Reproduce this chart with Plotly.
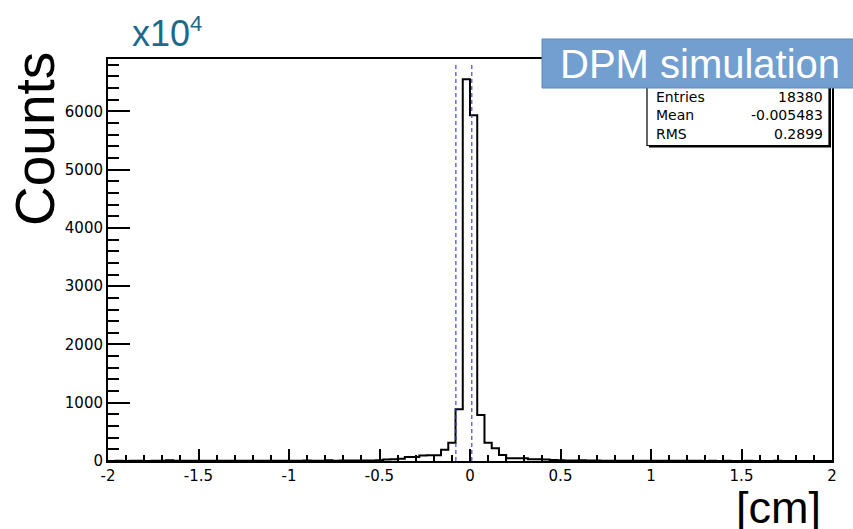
import plotly.graph_objects as go

# ---- data ----
bin_low = -2.0
bin_width = 0.04
counts = [
    2, 3, 2, 4, 3, 2, 3, 4, 12, 5,          # -2.00 .. -1.64
    4, 5, 3, 5, 4, 6, 4, 5, 3, 5,            # -1.60 .. -1.24
    4, 6, 5, 4, 6, 5, 6, 7, 5, 6,            # -1.20 .. -0.84
    12, 6, 7, 8, 7, 9, 10, 15, 25, 30,       # -0.80 .. -0.44
    40, 69, 69, 95, 100, 100, 195, 314, 887, 6552,  # -0.40 .. -0.04
    5935, 789, 314, 217, 103, 46, 46, 46, 29, 29,   # 0.00 .. 0.36
    25, 17, 12, 10, 9, 14, 8, 7, 6, 6,       # 0.40 .. 0.76
    5, 5, 4, 5, 4, 4, 3, 4, 3, 3,            # 0.80 .. 1.16
    3, 3, 2, 3, 2, 3, 2, 2, 3, 2,            # 1.20 .. 1.56
    2, 2, 3, 2, 2, 2, 1, 2, 2, 2,            # 1.60 .. 1.96
]
dashed_lines_x = [-0.078, 0.01]
stats_names = ["Entries", "Mean", "RMS"]
stats_values = ["18380", "-0.005483", "0.2899"]
x_tick_vals = [-2, -1.5, -1, -0.5, 0, 0.5, 1, 1.5, 2]
x_tick_text = ["-2", "-1.5", "-1", "-0.5", "0", "0.5", "1", "1.5", "2"]
y_tick_vals = [0, 1000, 2000, 3000, 4000, 5000, 6000]

# ---- build step histogram ----
edges = [bin_low + bin_width * i for i in range(len(counts) + 1)]
xs = edges
ys = counts + [counts[-1]]

fig = go.Figure()
fig.add_trace(go.Scatter(
    x=xs, y=ys, mode="lines", line=dict(color="black", width=2, shape="hv"),
    hoverinfo="skip", showlegend=False,
))
for xv in dashed_lines_x:
    fig.add_trace(go.Scatter(
        x=[xv, xv], y=[0, 6800], mode="lines",
        line=dict(color="#2f2fff", width=1.1, dash="4px,3px"),
        hoverinfo="skip", showlegend=False,
    ))

tickfont = dict(family="DejaVu Sans", size=15, color="black")
fig.update_xaxes(
    range=[-2, 2], tickvals=x_tick_vals, ticktext=x_tick_text,
    ticks="inside", ticklen=12, tickwidth=1.5, tickcolor="black",
    minor=dict(dtick=0.1, tick0=0, ticks="inside", ticklen=6, tickwidth=1.5, tickcolor="black"),
    showline=True, linecolor="black", linewidth=2, mirror=True,
    showgrid=False, zeroline=False, tickfont=tickfont,
)
fig.update_yaxes(
    range=[0, 6900], tickvals=y_tick_vals,
    ticks="inside", ticklen=22, tickwidth=1.5, tickcolor="black",
    minor=dict(dtick=200, tick0=0, ticks="inside", ticklen=11, tickwidth=1.5, tickcolor="black"),
    showline=True, linecolor="black", linewidth=2, mirror=True,
    showgrid=False, zeroline=False, tickfont=tickfont,
)

L, R, T, B = 108, 21, 59, 68
W, H = 853, 529
pw, ph = W - L - R, H - T - B

def px(x):
    return (x - L) / pw

def py(y):
    return (H - B - y) / ph

shapes = []
# stats box shadow + box
shapes.append(dict(type="rect", xref="paper", yref="paper",
                   x0=px(649), x1=px(831), y0=py(147.5), y1=py(57),
                   fillcolor="black", line=dict(width=0), layer="above"))
shapes.append(dict(type="rect", xref="paper", yref="paper",
                   x0=px(647), x1=px(829), y0=py(145.5), y1=py(55),
                   fillcolor="white", line=dict(color="black", width=1.2), layer="above"))
# DPM simulation box
shapes.append(dict(type="rect", xref="paper", yref="paper",
                   x0=px(542), x1=px(860), y0=py(88), y1=py(39),
                   fillcolor="#729fcf", line=dict(color="#5b87bd", width=1), layer="above"))

annotations = []
for i, (n, v) in enumerate(zip(stats_names, stats_values)):
    yy = [97, 115, 134][i]
    annotations.append(dict(xref="paper", yref="paper", x=px(654), y=py(yy), text=n,
                            showarrow=False, xanchor="left", yanchor="middle",
                            font=dict(family="DejaVu Sans", size=14, color="black")))
    annotations.append(dict(xref="paper", yref="paper", x=px(825), y=py(yy), text=v,
                            showarrow=False, xanchor="right", yanchor="middle",
                            font=dict(family="DejaVu Sans", size=14, color="black")))
annotations.append(dict(xref="paper", yref="paper", x=px(700), y=py(64), text="DPM simulation",
                        showarrow=False, xanchor="center", yanchor="middle",
                        font=dict(family="Liberation Sans", size=40, color="white")))
annotations.append(dict(xref="paper", yref="paper", x=px(130), y=py(33),
                        text="x10<sup><span style='font-size:22px'>4</span></sup>",
                        showarrow=False, xanchor="left", yanchor="middle",
                        font=dict(family="Liberation Sans", size=36, color="#1b6a8c")))
annotations.append(dict(xref="paper", yref="paper", x=px(35), y=py(139),
                        text="Counts", textangle=-90, showarrow=False,
                        xanchor="center", yanchor="middle",
                        font=dict(family="Liberation Sans", size=55, color="black")))
annotations.append(dict(xref="paper", yref="paper", x=px(778), y=py(507),
                        text="[cm]", showarrow=False,
                        xanchor="center", yanchor="middle",
                        font=dict(family="Liberation Sans", size=45, color="black")))

fig.update_layout(
    width=W, height=H, margin=dict(l=L, r=R, t=T, b=B),
    paper_bgcolor="white", plot_bgcolor="white",
    shapes=shapes, annotations=annotations, showlegend=False,
)
fig.write_html("out.html")
